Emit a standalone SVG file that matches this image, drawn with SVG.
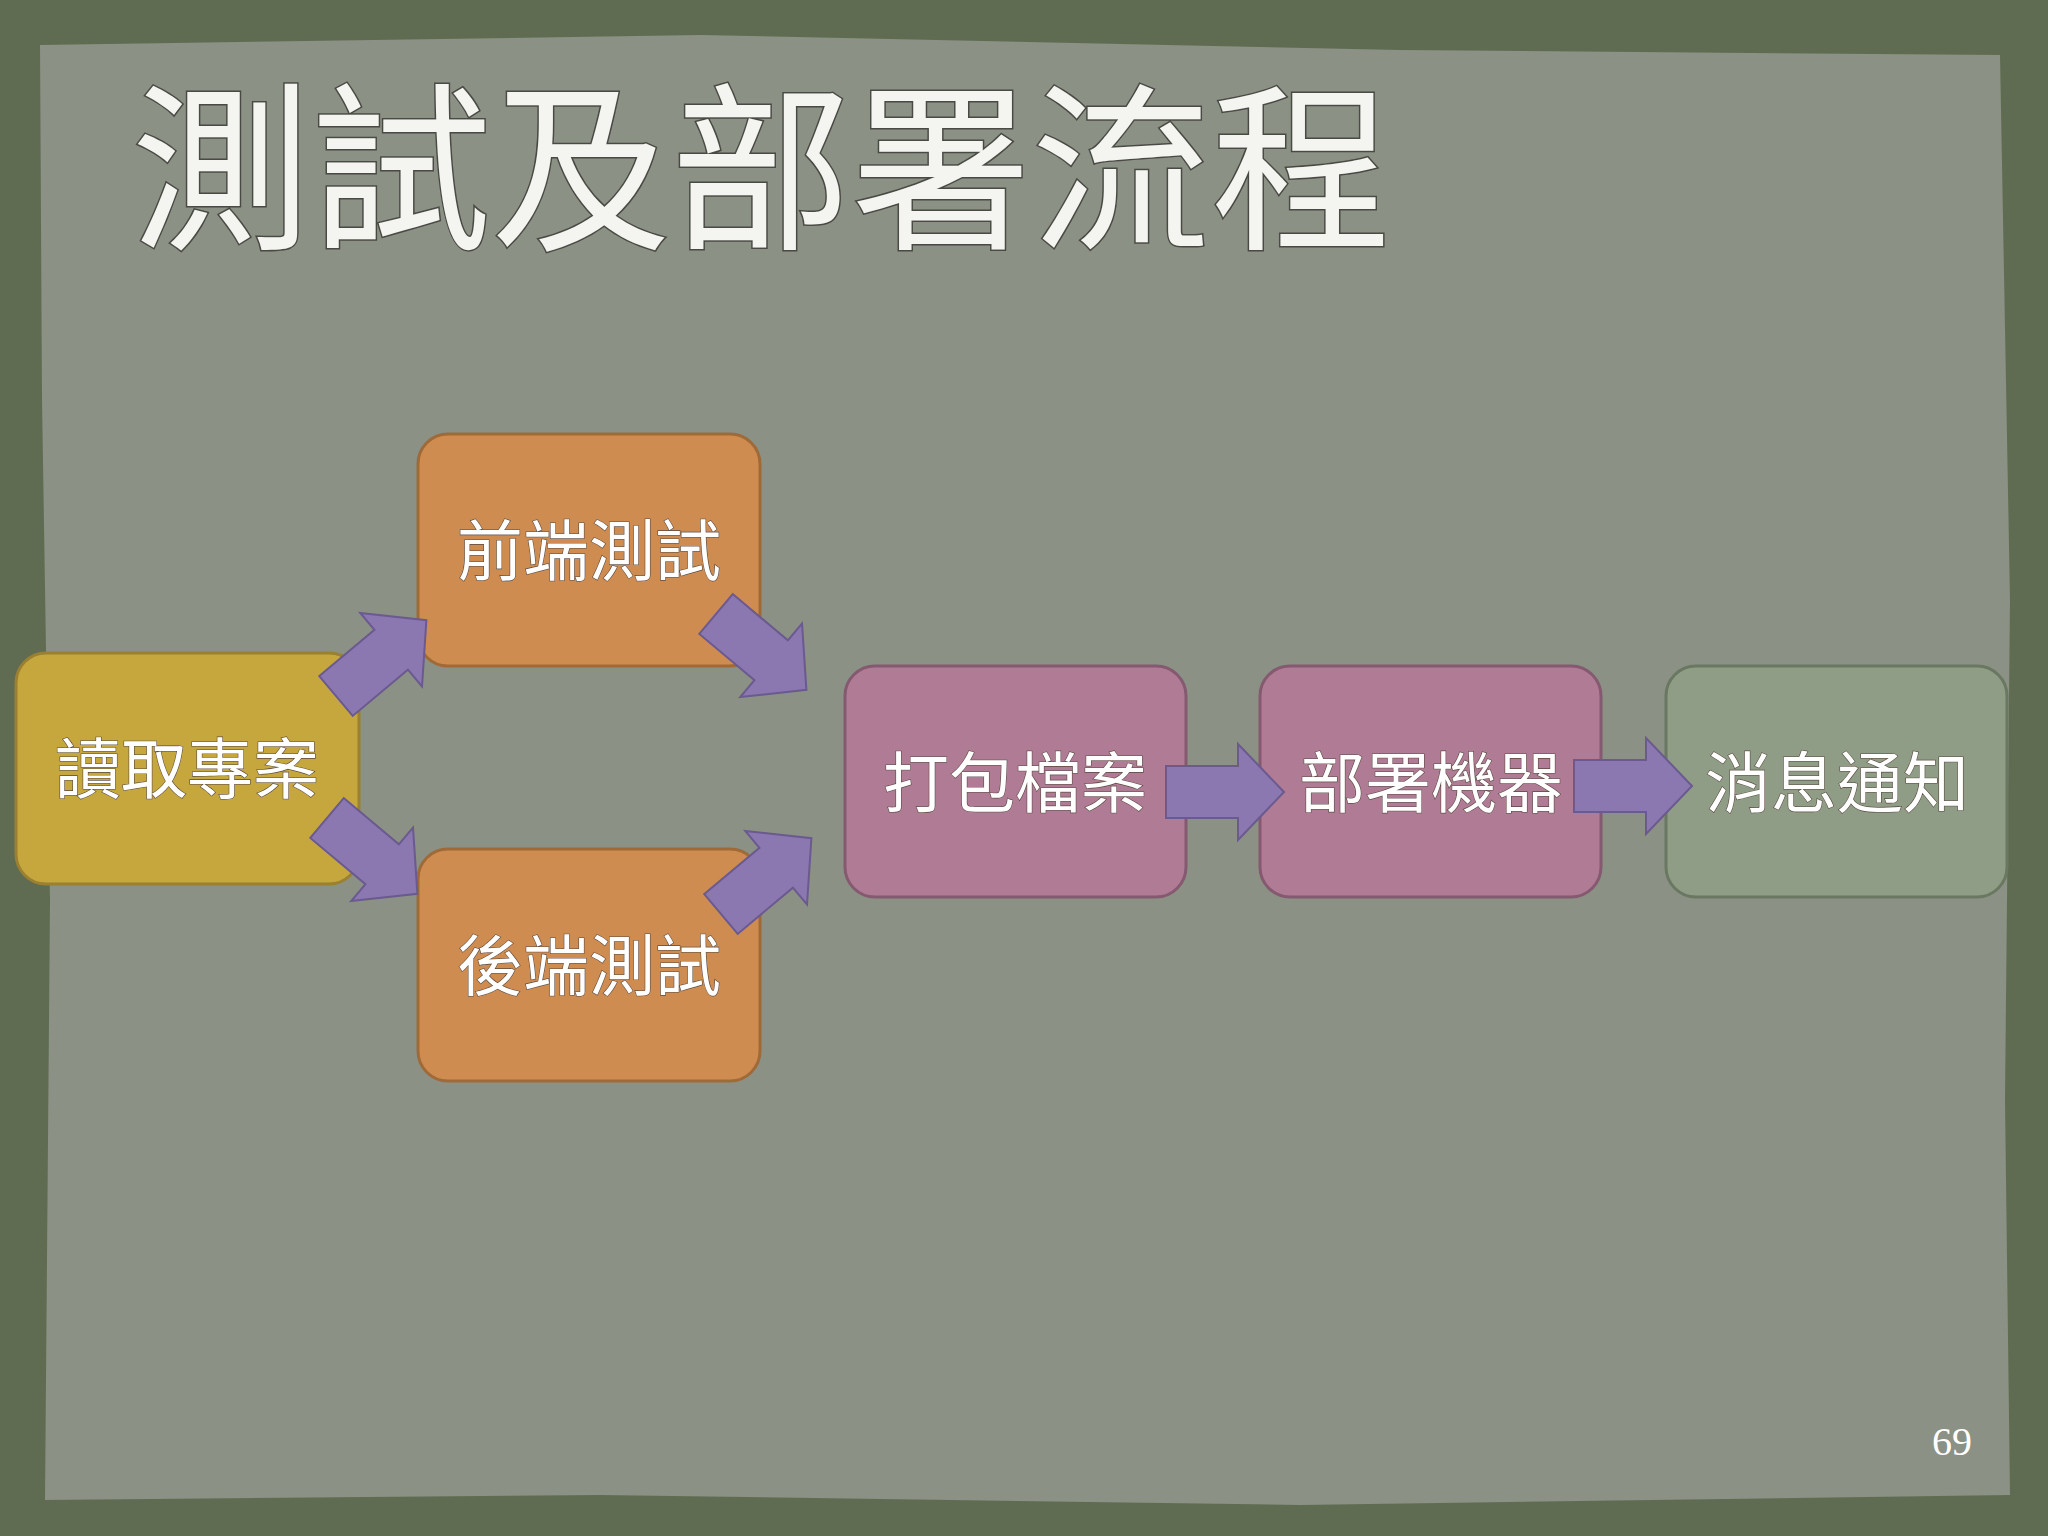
<svg xmlns="http://www.w3.org/2000/svg" width="2048" height="1536" viewBox="0 0 2048 1536">
<style>
.n{stroke-width:3}
.t{font-family:"Liberation Sans","Noto Sans CJK TC",sans-serif;font-size:66px;fill:#fff;text-anchor:middle;stroke:#5a4a40;stroke-width:1.2;paint-order:stroke}
.a{fill:#8c78b0;stroke:#6a5a90;stroke-width:2}
</style>
<defs>
<path id="arr" d="M0,-26 L72,-26 L72,-48 L118,0 L72,48 L72,26 L0,26 Z"/>
</defs>
<rect width="2048" height="1536" fill="#5f6c52"/>
<path d="M40,45 L700,35 L1400,50 L2000,55 L2010,600 L2005,1100 L2010,1495 L1300,1505 L600,1495 L45,1500 L50,900 L42,400 Z" fill="#8b9184"/>
<text x="131" y="235" font-family="Liberation Sans,'Noto Sans CJK TC',sans-serif" font-size="180" fill="#f4f4f0" stroke="#4a4a44" stroke-width="3" paint-order="stroke">測試及部署流程</text>
<g id="n1"><rect class="n" x="16" y="653" width="343" height="231" rx="30" fill="#c6a73e" stroke="#9a8030"/><text class="t" x="187" y="793">讀取專案</text></g>
<g id="n2"><rect class="n" x="418" y="434" width="342" height="232" rx="30" fill="#cf8c50" stroke="#a06a38"/><text class="t" x="589" y="575">前端測試</text></g>
<g id="n3"><rect class="n" x="418" y="849" width="342" height="232" rx="30" fill="#cf8c50" stroke="#a06a38"/><text class="t" x="589" y="990">後端測試</text></g>
<g id="n4"><rect class="n" x="845" y="666" width="341" height="231" rx="30" fill="#b07b94" stroke="#855a70"/><text class="t" x="1015" y="807">打包檔案</text></g>
<g id="n5"><rect class="n" x="1260" y="666" width="341" height="231" rx="30" fill="#b07b94" stroke="#855a70"/><text class="t" x="1431" y="807">部署機器</text></g>
<g id="n6"><rect class="n" x="1666" y="666" width="341" height="231" rx="30" fill="#8f9d86" stroke="#6a7862"/><text class="t" x="1837" y="807">消息通知</text></g>
<g id="connectors">
<use href="#arr" class="a" transform="translate(336,696) rotate(-40)"/>
<use href="#arr" class="a" transform="translate(716,614) rotate(40)"/>
<use href="#arr" class="a" transform="translate(327,818) rotate(40)"/>
<use href="#arr" class="a" transform="translate(721,914) rotate(-40)"/>
<use href="#arr" class="a" transform="translate(1166,792)"/>
<use href="#arr" class="a" transform="translate(1574,786)"/>
</g>
<text x="1952" y="1455" font-family="Liberation Serif,serif" font-size="40" fill="#fff" text-anchor="middle">69</text>
</svg>
